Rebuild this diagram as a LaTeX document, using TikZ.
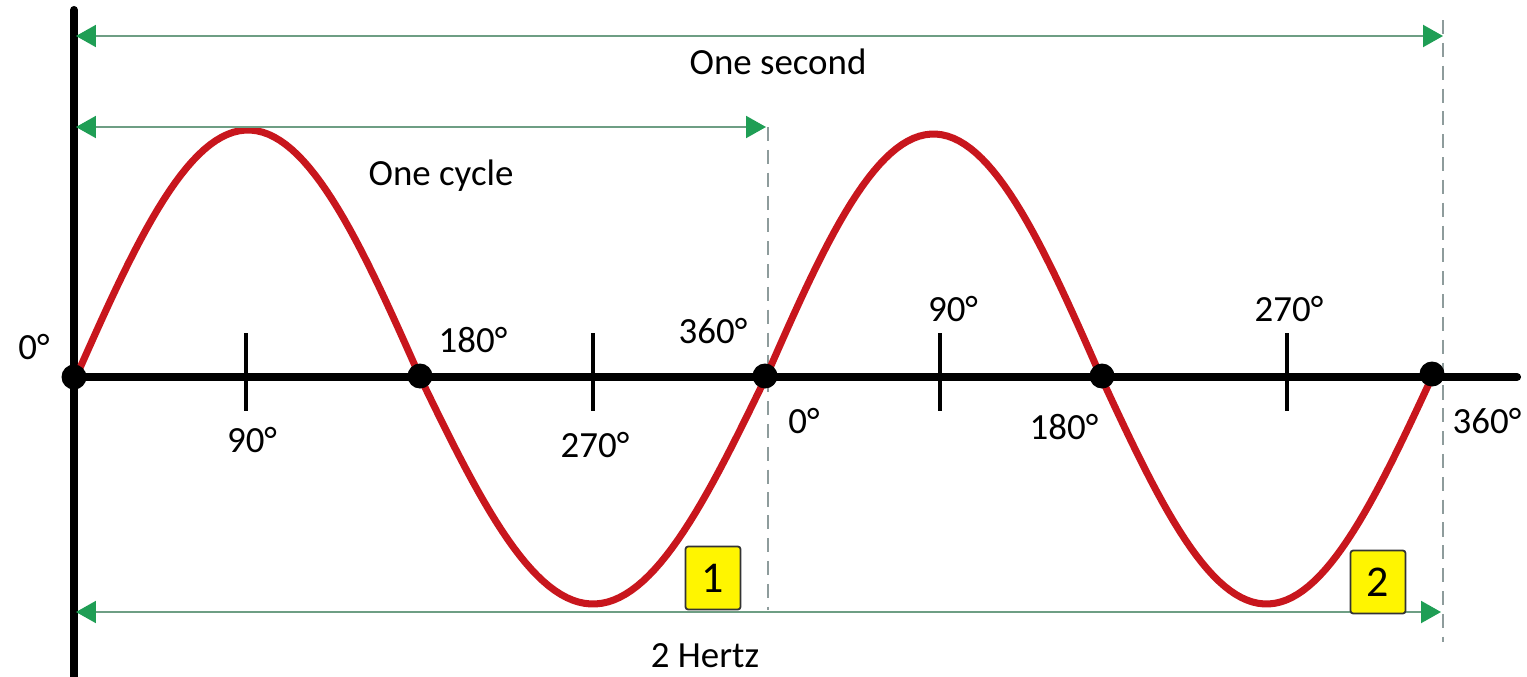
\documentclass[tikz,border=0pt]{standalone}
\usepackage{fontspec}
\setmainfont{Carlito}
\usetikzlibrary{arrows.meta}
\definecolor{wavec}{HTML}{C8161D}
\definecolor{spanc}{HTML}{6E9E84}
\definecolor{tipc}{HTML}{1F9E55}
\definecolor{dashc}{HTML}{8E9C9C}
\definecolor{boxc}{HTML}{FFF500}

\begin{document}
\begin{tikzpicture}[
  x=0.02cm, y=-0.02cm,
  axis/.style={line width=4.6pt, line cap=round, draw=black},
  tick/.style={line width=2.2pt, draw=black},
  wave/.style={line width=4pt, draw=wavec, line join=round},
  span/.style={{Triangle[length=0.4cm,width=0.44cm,color=tipc]}-{Triangle[length=0.4cm,width=0.44cm,color=tipc]},
               line width=1.2pt, draw=spanc},
  guide/.style={dash pattern=on 8pt off 5pt, line width=1.2pt, draw=dashc},
  dot/.style={circle, fill=black, inner sep=0pt, minimum size=0.5cm},
  deg/.style={font=\fontsize{21}{24}\selectfont, inner sep=0pt},
  lbl/.style={font=\fontsize{21}{24}\selectfont, inner sep=0pt},
  count/.style={draw=black!80, fill=boxc, line width=1pt, rounded corners=1.5pt,
                font=\fontsize{25}{28}\selectfont, minimum width=1.1cm, minimum height=1.26cm, inner sep=0pt}]
\useasboundingbox (0,0) rectangle (1527,676);
% axes
\coordinate (vtop) at (74,10);
\coordinate (vbot) at (74,690);
\coordinate (hend) at (1517,377);
\draw[axis] (vtop) -- (vbot);
\draw[axis] (74,377) -- (hend);
% ticks at 90 and 270 degrees
\foreach \t in {246,593,940,1287}
  \draw[tick] (\t,333) -- (\t,411);
% dashed guides
\coordinate (g1t) at (768,127);
\coordinate (g1b) at (768,610);
\coordinate (g2t) at (1443,20);
\coordinate (g2b) at (1443,642);
\draw[guide] (g1t) -- (g1b);
\draw[guide] (g2t) -- (g2b);
% sine wave, two cycles
\draw[wave] plot[domain=76:420, samples=60] (\x, {377-247*sin((\x-76)/344*180)})
  -- plot[domain=420:766, samples=60] (\x, {377+227*sin((\x-420)/346*180)})
  -- plot[domain=766:1101, samples=60] (\x, {377-243*sin((\x-766)/335*180)})
  -- plot[domain=1101:1432, samples=60] (\x, {377+227*sin((\x-1101)/331*180)});
% zero crossings
\node[dot] (d0) at (74,377) {};
\node[dot] (d1) at (420,376) {};
\node[dot] (d2) at (765,376) {};
\node[dot] (d3) at (1102,376) {};
\node[dot] (d4) at (1432,374) {};
% spans
\coordinate (s1l) at (76,36);   \coordinate (s1r) at (1443,36);
\coordinate (s2l) at (76,127);  \coordinate (s2r) at (766,127);
\coordinate (s3l) at (76,612);  \coordinate (s3r) at (1441,612);
\draw[span] (s1l) -- (s1r);
\draw[span] (s2l) -- (s2r);
\draw[span] (s3l) -- (s3r);
\node[lbl] (second) at (778,62)  {One second};
\node[lbl] (cycle)  at (441,176) {One cycle};
\node[lbl] (hertz)  at (705,656) {2 Hertz};
% degree labels
\node[deg] (a0)   at (34,347)   {0°};
\node[deg] (a90)  at (252,440)  {90°};
\node[deg] (a180) at (473,340)  {180°};
\node[deg] (a270) at (595,445)  {270°};
\node[deg] (a360) at (713,331)  {360°};
\node[deg] (b0)   at (804,421)  {0°};
\node[deg] (b90)  at (953,309)  {90°};
\node[deg] (b180) at (1064,427) {180°};
\node[deg] (b270) at (1289,309) {270°};
\node[deg] (b360) at (1487,421) {360°};
% cycle counters
\node[count] (c1) at (713,578)  {1};
\node[count] (c2) at (1378,582) {2};
\end{tikzpicture}
\end{document}
